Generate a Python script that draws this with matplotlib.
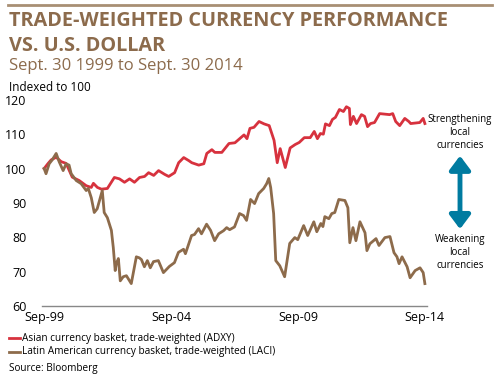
import matplotlib.pyplot as plt
from matplotlib.lines import Line2D
from matplotlib.patches import FancyArrowPatch

# months since Sep-99
asia_months = [0, 1.9, 3.3, 5.7, 8.1, 10.4, 13.3, 16.6, 19.9, 22.3, 23.3, 25.2, 27.1, 29.9,
               33.2, 35.6, 38, 40.4, 42.7, 45.1, 47.5, 49.4, 51.8, 54.1, 57, 58.9, 61.7,
               63.6, 66, 68.4, 69.8, 73.1, 75.5, 76.9, 79.3, 80.7, 84, 87.4, 90.2, 94.5,
               95.9, 97.3, 99.2, 101.6, 104, 106.4, 108.7, 110.2, 111.6, 114, 116.3, 118.7,
               120.6, 123, 125.8, 127.7, 129.2, 130.6, 132, 133, 134.9, 136.3, 137.7, 139.6,
               141.5, 142.9, 144.3, 144.8, 146.2, 147.7, 150, 151.5, 152.9, 154.3, 156.2,
               158.6, 163.3, 164.8, 166.2, 168.1, 170.5, 172.4, 173.3, 177.6, 179.2, 180]
asia_vals = [100, 101.5, 102.5, 103.3, 102, 101.5, 97.5, 96.5, 95, 94.5, 95.7, 94.5, 94, 94.2,
             97.4, 97, 96, 97, 96, 97.4, 97.7, 98.8, 98, 99.4, 98.3, 97.7, 98.8,
             101.7, 103.2, 102.3, 101.7, 101, 101.4, 104.4, 105.5, 104.7, 104.7, 107.3, 107.5, 109.8,
             108.7, 111.7, 112, 113.7, 113, 112.5, 108.2, 101.7, 105.8, 100.3, 106, 107,
             107.6, 109, 109, 110.8, 108.7, 110.2, 110, 113, 112.5, 114.3, 114.9, 117.2,
             116.6, 118, 117.5, 112.8, 115.2, 113.1, 115.7, 115.2, 112.2, 113.1, 113.4,
             116, 115.7, 116, 113.7, 112.5, 114.6, 113.7, 113.1, 113.4, 114.6, 113.1]

latam_months = [0, 0.9, 2.4, 3.8, 5.7, 7.1, 9, 10.4, 11.8, 12.8, 15.2, 17.5, 19.9, 20.9, 22.3,
                23.7, 25.1, 27.5, 28.4, 29.9, 31.8, 32.7, 33.6, 34.1, 35.1, 36, 37.4, 38.9,
                41.2, 43.6, 45, 46, 47.4, 48.8, 50.2, 51.7, 54, 56.4, 59.2, 61.6, 63.5, 65.9,
                66.8, 69.7, 71.1, 73, 74.4, 76.8, 78.7, 80.6, 82.5, 84.8, 86.3, 87.7, 90,
                92.4, 94.3, 95.7, 97.6, 99.5, 101.4, 103.8, 105.2, 106.2, 107.1, 108.5, 109.5,
                111.4, 113.7, 116.1, 118.5, 119.9, 122.7, 124.6, 127.5, 128.9, 130.8, 131.8,
                132.7, 134.6, 136, 137.4, 139.3, 142.2, 143.6, 144.5, 146, 147.4, 149.3,
                151.7, 152.6, 154, 156.9, 158.3, 161.1, 163.5, 165.4, 166.8, 167.8, 169.2,
                171.6, 173, 175.4, 177.7, 179.2, 180]
latam_vals = [100, 98.5, 101.4, 102.5, 104.4, 102, 99.4, 101.4, 101, 98.5, 96.5, 95.6, 93.6, 94.2, 91.5,
              87.2, 88.3, 93.6, 87.2, 85.7, 82, 77, 70.3, 72.3, 73.8, 67.3, 68.5, 68.8,
              66.5, 74.3, 74, 73.5, 71.4, 73.2, 71.1, 72.9, 73.2, 69.7, 71.5, 72.6, 75.6, 76.5,
              75.2, 80.5, 80.8, 82.5, 81, 83.8, 82, 79, 81, 81.9, 82.8, 82.2, 83,
              86.9, 86.3, 84.9, 91, 89.8, 92.7, 94.2, 95.6, 97.1, 94.5, 86.9, 73.2,
              71.7, 68.5, 78.2, 79.9, 79.3, 83.4, 80.5, 84.5, 81.6, 84, 83.1,
              86, 85.4, 86.9, 87.2, 91, 90.7, 88.6, 78.4, 82.8, 79, 84.5,
              81.3, 76.1, 78.1, 79.6, 77.6, 79.9, 80.2, 75.5, 74.3, 72.3, 74.3,
              71.4, 68.2, 70.3, 71.1, 69.7, 66.5]

tick_pos = [0, 60, 120, 180]
tick_labels = ['Sep-99', 'Sep-04', 'Sep-09', 'Sep-14']

red = '#d7323e'
brown = '#8d6b4b'
title_col = '#8c6b4c'
teal = '#007ba0'
font = 'Open Sans'

fig = plt.figure(figsize=(5, 3.74), dpi=100)
ax = fig.add_axes([0.084, 0.182, 0.77, 0.551])

ax.plot(asia_months, asia_vals, color=red, lw=2.0, solid_joinstyle='round')
ax.plot(latam_months, latam_vals, color=brown, lw=2.0, solid_joinstyle='round')

ax.set_xlim(-1, 181)
ax.set_ylim(60, 120)
ax.set_yticks([60, 70, 80, 90, 100, 110, 120])
ax.set_xticks(tick_pos)
ax.set_xticklabels(tick_labels)
ax.tick_params(length=0, labelsize=9, pad=4)
ax.tick_params(axis='y', pad=11)
for lab in ax.get_xticklabels() + ax.get_yticklabels():
    lab.set_fontfamily(font)
for s in ['top', 'right', 'left']:
    ax.spines[s].set_visible(False)
ax.spines['bottom'].set_color('#888888')
ax.spines['bottom'].set_linewidth(1.0)

# header
fig.add_artist(Line2D([0.016, 0.984], [0.986, 0.986], color='#a88f74', lw=2))
fig.text(0.018, 0.930, 'TRADE-WEIGHTED CURRENCY PERFORMANCE', fontsize=14.3,
         fontweight='bold', color=title_col, family=font, va='baseline')
fig.text(0.018, 0.864, 'VS. U.S. DOLLAR', fontsize=14.3, fontweight='bold',
         color=title_col, family=font, va='baseline')
fig.text(0.018, 0.813, 'Sept. 30 1999 to Sept. 30 2014', fontsize=12,
         color=title_col, family=font, va='baseline')
fig.text(0.018, 0.757, 'Indexed to 100', fontsize=8.5, color='black',
         family=font, va='baseline')

# side annotations
fig.text(0.92, 0.645, 'Strengthening\nlocal\ncurrencies', ha='center', va='center',
         fontsize=7.0, family=font, linespacing=1.25)
fig.text(0.92, 0.325, 'Weakening\nlocal\ncurrencies', ha='center', va='center',
         fontsize=7.0, family=font, linespacing=1.25)
fig.patches.append(FancyArrowPatch(
    (0.92, 0.591), (0.92, 0.380), transform=fig.transFigure,
    arrowstyle='<|-|>,head_length=0.6,head_width=0.45', mutation_scale=14,
    color=teal, lw=3.5))

# legend
fig.add_artist(Line2D([0.018, 0.04], [0.096, 0.096], color=red, lw=2))
fig.text(0.043, 0.096, 'Asian currency basket, trade-weighted (ADXY)', fontsize=7.2,
         family=font, va='center')
fig.add_artist(Line2D([0.018, 0.04], [0.059, 0.059], color=brown, lw=2))
fig.text(0.043, 0.059, 'Latin American currency basket, trade-weighted (LACI)', fontsize=7.2,
         family=font, va='center')
fig.text(0.018, 0.016, 'Source: Bloomberg', fontsize=7.2, family=font, va='center')

fig.savefig('out.png', dpi=100)
